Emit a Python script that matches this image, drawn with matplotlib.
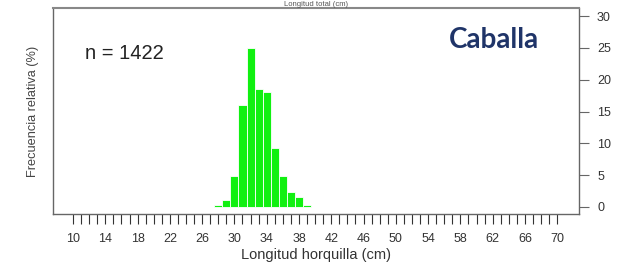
import matplotlib
matplotlib.use("Agg")
import matplotlib.pyplot as plt
import numpy as np

# Data
lengths = [28, 29, 30, 31, 32, 33, 34, 35, 36, 37, 38, 39]
freq_pct = [0.3, 1.1, 4.9, 16.0, 25.0, 18.5, 18.1, 9.2, 4.8, 2.3, 1.5, 0.3]
x_ticks_major = list(range(10, 71, 4))
x_ticks_minor = list(range(10, 71, 1))
y_ticks = [0, 5, 10, 15, 20, 25, 30]
n_label = "n = 1422"
species = "Caballa"

plt.rcParams['font.family'] = ['Liberation Sans', 'DejaVu Sans']

fig = plt.figure(figsize=(6.24, 2.63), dpi=100)
ax = fig.add_axes([53/624, 1-214/263, (579-53)/624, (214-8)/263])

ax.bar(lengths, freq_pct, width=1.0, color='#11f011', edgecolor='white', linewidth=0.6)

ax.set_xlim(7.52, 72.7)
ax.set_ylim(-1.1, 31.26)

for s in ax.spines.values():
    s.set_color('#666666')
    s.set_linewidth(1.0)
ax.spines['top'].set_color('#888888')
ax.spines['top'].set_linewidth(1.5)

ax.yaxis.tick_right()
ax.set_yticks(y_ticks)
ax.tick_params(axis='y', which='both', direction='out', length=7, width=0.8,
               color='#666666', labelsize=9, labelcolor='#333333', pad=6)

ax.set_xticks(x_ticks_minor, minor=True)
ax.set_xticks(x_ticks_major)
ax.set_xticklabels([str(v) for v in x_ticks_major])
ax.tick_params(axis='x', which='both', direction='out', length=7, width=0.8,
               color='#333333', labelsize=9, labelcolor='#333333', pad=7)

ax.set_xlabel('Longitud horquilla (cm)', fontsize=10.5, color='#333333', labelpad=2)
ax.set_ylabel('Frecuencia relativa (%)', fontsize=9.2, color='#444444', labelpad=10)

ax.text(85/624, 1-53/263, n_label, transform=fig.transFigure, fontsize=14.5,
        color='#222222', va='center', ha='left')
ax.text(494/624, 1-40/263, species, transform=fig.transFigure, fontsize=20,
        fontweight='bold', color='#1f3468', va='center', ha='center',
        family=['Lato', 'DejaVu Sans'])

fig.text(316/624, 1.0 - 0.5/263, 'Longitud total (cm)', fontsize=5.5, color='#555555',
         ha='center', va='top')

fig.savefig('out.png', dpi=100)
